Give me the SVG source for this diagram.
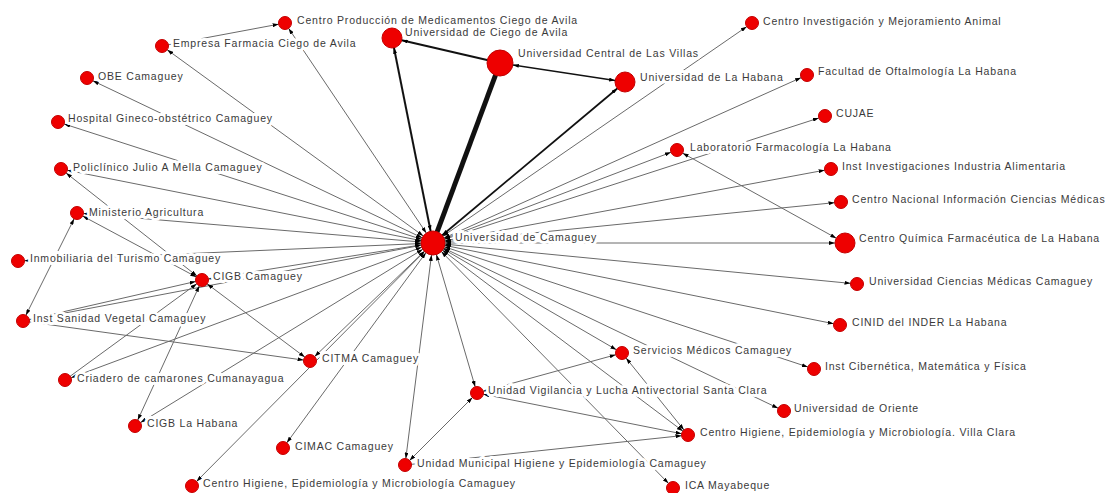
<svg xmlns="http://www.w3.org/2000/svg" width="1107" height="493" viewBox="0 0 1107 493">
<style>
.e{stroke:#6a6a6a;stroke-width:1;fill:none}
.h{marker-start:url(#mH);marker-end:url(#m6)}
.b{marker-start:url(#m6);marker-end:url(#m6)}
.t{marker-end:url(#m6)}
.k{stroke:#111;fill:none}
.n{fill:#ee0000;stroke:#c40000;stroke-width:1}
text{font-family:"Liberation Sans",Arial,sans-serif;font-size:10.5px;letter-spacing:0.8px;fill:#3a3a3a;stroke:#fff;stroke-width:6px;stroke-linejoin:round;paint-order:stroke}
</style>
<defs>
<marker id="m6" viewBox="0 0 6 4" refX="12.5" refY="2" markerWidth="6" markerHeight="4" markerUnits="userSpaceOnUse" orient="auto-start-reverse"><path d="M0,0L6,2L0,4z" fill="#000"/></marker>
<marker id="m10" viewBox="0 0 6 4" refX="16" refY="2" markerWidth="6" markerHeight="4" markerUnits="userSpaceOnUse" orient="auto-start-reverse"><path d="M0,0L6,2L0,4z" fill="#000"/></marker>
<marker id="m13" viewBox="0 0 6 4" refX="19" refY="2" markerWidth="6" markerHeight="4" markerUnits="userSpaceOnUse" orient="auto-start-reverse"><path d="M0,0L6,2L0,4z" fill="#000"/></marker>
<marker id="mH" viewBox="0 0 6 4" refX="18" refY="2" markerWidth="6" markerHeight="4" markerUnits="userSpaceOnUse" orient="auto-start-reverse"><path d="M0,0L6,2L0,4z" fill="#000"/></marker>
</defs>
<rect width="1107" height="493" fill="#fff"/>
<g id="connectors">
<line class="e h" x1="433" y1="243" x2="285" y2="23"/>
<line class="e h" x1="433" y1="243" x2="162" y2="46"/>
<line class="e h" x1="433" y1="243" x2="87" y2="78"/>
<line class="e h" x1="433" y1="243" x2="58" y2="122"/>
<line class="e h" x1="433" y1="243" x2="61" y2="169"/>
<line class="e h" x1="433" y1="243" x2="77" y2="213"/>
<line class="e h" x1="433" y1="243" x2="18" y2="261"/>
<line class="e h" x1="433" y1="243" x2="202" y2="280"/>
<line class="e h" x1="433" y1="243" x2="23" y2="321"/>
<line class="e h" x1="433" y1="243" x2="310" y2="361"/>
<line class="e h" x1="433" y1="243" x2="65" y2="380"/>
<line class="e h" x1="433" y1="243" x2="135" y2="426"/>
<line class="e h" x1="433" y1="243" x2="283" y2="448"/>
<line class="e h" x1="433" y1="243" x2="192" y2="486"/>
<line class="e h" x1="433" y1="243" x2="405" y2="465"/>
<line class="e h" x1="433" y1="243" x2="477" y2="393"/>
<line class="e h" x1="433" y1="243" x2="622" y2="353"/>
<line class="e h" x1="433" y1="243" x2="688" y2="435"/>
<line class="e h" x1="433" y1="243" x2="673" y2="488"/>
<line class="e h" x1="433" y1="243" x2="784" y2="411"/>
<line class="e h" x1="433" y1="243" x2="814" y2="369"/>
<line class="e h" x1="433" y1="243" x2="840" y2="325"/>
<line class="e h" x1="433" y1="243" x2="857" y2="284"/>
<line class="e h" x1="433" y1="243" x2="841" y2="202"/>
<line class="e h" x1="433" y1="243" x2="831" y2="169"/>
<line class="e h" x1="433" y1="243" x2="677" y2="150"/>
<line class="e h" x1="433" y1="243" x2="825" y2="116"/>
<line class="e h" x1="433" y1="243" x2="807" y2="75"/>
<line class="e h" x1="433" y1="243" x2="752" y2="23"/>
<line class="e" x1="433" y1="243" x2="845" y2="243" stroke-width="2" stroke="#555" marker-start="url(#mH)" marker-end="url(#m10)"/>
<line class="e t" x1="162" y1="46" x2="285" y2="23"/>
<line class="e b" x1="77" y1="213" x2="23" y2="321"/>
<line class="e b" x1="77" y1="213" x2="202" y2="280"/>
<line class="e b" x1="61" y1="169" x2="202" y2="280"/>
<line class="e t" x1="23" y1="321" x2="202" y2="280"/>
<line class="e t" x1="23" y1="321" x2="310" y2="361"/>
<line class="e t" x1="65" y1="380" x2="202" y2="280"/>
<line class="e b" x1="135" y1="426" x2="202" y2="280"/>
<line class="e b" x1="202" y1="280" x2="310" y2="361"/>
<line class="e b" x1="405" y1="465" x2="477" y2="393"/>
<line class="e t" x1="405" y1="465" x2="688" y2="435"/>
<line class="e b" x1="477" y1="393" x2="622" y2="353"/>
<line class="e b" x1="477" y1="393" x2="688" y2="435"/>
<line class="e b" x1="622" y1="353" x2="688" y2="435"/>
<line class="e" x1="677" y1="150" x2="845" y2="243" marker-start="url(#m6)" marker-end="url(#m10)"/>
<line class="k" x1="500" y1="63" x2="625" y2="82" stroke-width="1.4" marker-start="url(#m13)" marker-end="url(#m10)"/>
<line class="k" x1="500" y1="63" x2="392" y2="38" stroke-width="2" marker-end="url(#m10)"/>
<line class="k" x1="433" y1="243" x2="625" y2="82" stroke-width="1.8" marker-start="url(#mH)" marker-end="url(#m10)"/>
<line class="k" x1="433" y1="243" x2="392" y2="38" stroke-width="2" marker-start="url(#mH)" marker-end="url(#m10)"/>
<line class="k" x1="433" y1="243" x2="500" y2="63" stroke-width="5" stroke="#000"/>
</g>
<g id="n-cp"><circle class="n" cx="285" cy="23" r="6.5"/><text x="297" y="24">Centro Producción de Medicamentos Ciego de Avila</text></g>
<g id="n-empresa"><circle class="n" cx="162" cy="46" r="6.5"/><text x="173" y="47">Empresa Farmacia Ciego de Avila</text></g>
<g id="n-obe"><circle class="n" cx="87" cy="78" r="6.5"/><text x="98" y="80">OBE Camaguey</text></g>
<g id="n-hospital"><circle class="n" cx="58" cy="122" r="6.5"/><text x="68" y="122">Hospital Gineco-obstétrico Camaguey</text></g>
<g id="n-policlinico"><circle class="n" cx="61" cy="169" r="6.5"/><text x="73" y="171">Policlínico Julio A Mella Camaguey</text></g>
<g id="n-ministerio"><circle class="n" cx="77" cy="213" r="6.5"/><text x="89" y="216">Ministerio Agricultura</text></g>
<g id="n-inmobiliaria"><circle class="n" cx="18" cy="261" r="6.5"/><text x="30" y="262">Inmobiliaria del Turismo Camaguey</text></g>
<g id="n-cigb-cam"><circle class="n" cx="202" cy="280" r="6.5"/><text x="213" y="280">CIGB Camaguey</text></g>
<g id="n-sanidad"><circle class="n" cx="23" cy="321" r="6.5"/><text x="33" y="322">Inst Sanidad Vegetal Camaguey</text></g>
<g id="n-citma"><circle class="n" cx="310" cy="361" r="6.5"/><text x="322" y="362">CITMA Camaguey</text></g>
<g id="n-criadero"><circle class="n" cx="65" cy="380" r="6.5"/><text x="77" y="382">Criadero de camarones Cumanayagua</text></g>
<g id="n-cigb-lh"><circle class="n" cx="135" cy="426" r="6.5"/><text x="147" y="427">CIGB La Habana</text></g>
<g id="n-cimac"><circle class="n" cx="283" cy="448" r="6.5"/><text x="295" y="450">CIMAC Camaguey</text></g>
<g id="n-che-cam"><circle class="n" cx="192" cy="486" r="6.5"/><text x="203" y="487">Centro Higiene, Epidemiología y Microbiología Camaguey</text></g>
<g id="n-umun"><circle class="n" cx="405" cy="465" r="6.5"/><text x="417" y="467">Unidad Municipal Higiene y Epidemiología Camaguey</text></g>
<g id="n-uvig"><circle class="n" cx="477" cy="393" r="6.5"/><text x="488" y="394">Unidad Vigilancia y Lucha Antivectorial Santa Clara</text></g>
<g id="n-servicios"><circle class="n" cx="622" cy="353" r="6.5"/><text x="633" y="354">Servicios Médicos Camaguey</text></g>
<g id="n-che-vc"><circle class="n" cx="688" cy="435" r="6.5"/><text x="700" y="436">Centro Higiene, Epidemiología y Microbiología. Villa Clara</text></g>
<g id="n-ica"><circle class="n" cx="673" cy="488" r="6.5"/><text x="685" y="489">ICA Mayabeque</text></g>
<g id="n-oriente"><circle class="n" cx="784" cy="411" r="6.5"/><text x="794" y="412">Universidad de Oriente</text></g>
<g id="n-cibernetica"><circle class="n" cx="814" cy="369" r="6.5"/><text x="825" y="370">Inst Cibernética, Matemática y Física</text></g>
<g id="n-cinid"><circle class="n" cx="840" cy="325" r="6.5"/><text x="852" y="326">CINID del INDER La Habana</text></g>
<g id="n-ucm"><circle class="n" cx="857" cy="284" r="6.5"/><text x="869" y="285">Universidad Ciencias Médicas Camaguey</text></g>
<g id="n-cnicm"><circle class="n" cx="841" cy="202" r="6.5"/><text x="852" y="203">Centro Nacional Información Ciencias Médicas</text></g>
<g id="n-iiia"><circle class="n" cx="831" cy="169" r="6.5"/><text x="842" y="170">Inst Investigaciones Industria Alimentaria</text></g>
<g id="n-lab"><circle class="n" cx="677" cy="150" r="6.5"/><text x="690" y="151">Laboratorio Farmacología La Habana</text></g>
<g id="n-cujae"><circle class="n" cx="825" cy="116" r="6.5"/><text x="836" y="117">CUJAE</text></g>
<g id="n-oftalmologia"><circle class="n" cx="807" cy="75" r="6.5"/><text x="818" y="75">Facultad de Oftalmología La Habana</text></g>
<g id="n-cima"><circle class="n" cx="752" cy="23" r="6.5"/><text x="763" y="25">Centro Investigación y Mejoramiento Animal</text></g>
<g id="n-cqf"><circle class="n" cx="845" cy="243" r="10"/><text x="859" y="242">Centro Química Farmacéutica de La Habana</text></g>
<g id="n-uh"><circle class="n" cx="625" cy="82" r="10"/><text x="640" y="81">Universidad de La Habana</text></g>
<g id="n-uclv"><circle class="n" cx="500" cy="63" r="13"/><text x="518" y="57">Universidad Central de Las Villas</text></g>
<g id="n-ciego"><circle class="n" cx="392" cy="38" r="10"/><text x="405" y="36">Universidad de Ciego de Avila</text></g>
<g id="n-hub"><circle class="n" cx="433" cy="243" r="12"/><text x="455" y="241">Universidad de Camaguey</text></g>
</svg>
